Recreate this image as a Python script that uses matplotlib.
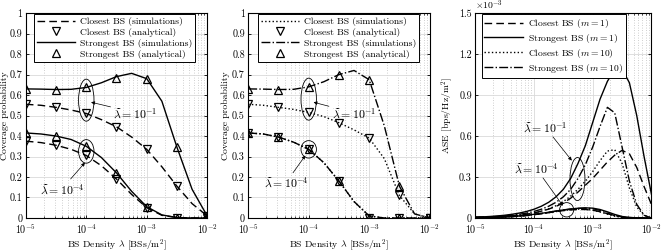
import numpy as np
import matplotlib
matplotlib.use("Agg")
import matplotlib.pyplot as plt
from matplotlib.patches import Ellipse
from matplotlib.ticker import FuncFormatter, LogLocator, NullFormatter

plt.rcParams.update({
    "font.family": ["cmr10", "DejaVu Serif"],
    "mathtext.fontset": "cm",
    "axes.formatter.use_mathtext": True,
    "font.size": 7,
    "axes.linewidth": 0.8,
})

# ---------------- data ----------------
# analytical points (markers)
lam_pts = [1e-5, 3.16e-5, 1e-4, 3.16e-4, 1e-3, 3.16e-3, 1e-2]
# simulation grid (quarter decades) for panels 1 and 2
lam_sim = [10 ** (-5 + 0.25 * k) for k in range(13)]
# simulation grid (eighth decades) for panel 3
lam_ase = [10 ** (-5 + 0.125 * k) for k in range(25)]

# Panel 1 (m = 1)
p1_close_an_hi = [0.555, 0.54, 0.51, 0.445, 0.335, 0.155, 0.01]
p1_strong_an_hi = [0.63, 0.627, 0.637, 0.685, 0.68, 0.345, 0.01]
p1_close_an_lo = [0.375, 0.355, 0.305, 0.19, 0.05, 0.0, 0.0]
p1_strong_an_lo = [0.415, 0.40, 0.35, 0.22, 0.055, 0.0, 0.0]
p1_close_sim_hi = [0.555, 0.55, 0.54, 0.527, 0.51, 0.48, 0.445, 0.395, 0.335, 0.25, 0.155, 0.07, 0.01]
p1_strong_sim_hi = [0.63, 0.629, 0.627, 0.628, 0.637, 0.66, 0.69, 0.706, 0.68, 0.57, 0.345, 0.14, 0.01]
p1_close_sim_lo = [0.375, 0.368, 0.355, 0.335, 0.305, 0.255, 0.19, 0.115, 0.05, 0.013, 0.002, 0.0, 0.0]
p1_strong_sim_lo = [0.415, 0.41, 0.40, 0.383, 0.35, 0.295, 0.22, 0.13, 0.055, 0.015, 0.002, 0.0, 0.0]

# Panel 2 (m = 10)
p2_close_an_hi = [0.555, 0.54, 0.515, 0.465, 0.39, 0.11, 0.0]
p2_strong_an_hi = [0.63, 0.627, 0.64, 0.70, 0.675, 0.155, 0.0]
p2_close_an_lo = [0.415, 0.395, 0.335, 0.18, 0.0, 0.0, 0.0]
p2_strong_an_lo = [0.415, 0.395, 0.335, 0.18, 0.0, 0.0, 0.0]
p2_close_sim_hi = [0.555, 0.55, 0.54, 0.53, 0.515, 0.495, 0.465, 0.43, 0.39, 0.29, 0.11, 0.02, 0.0]
p2_strong_sim_hi = [0.63, 0.629, 0.627, 0.628, 0.64, 0.665, 0.70, 0.72, 0.675, 0.45, 0.155, 0.02, 0.0]
p2_close_sim_lo = [0.415, 0.41, 0.395, 0.37, 0.335, 0.27, 0.18, 0.08, 0.01, 0.0, 0.0, 0.0, 0.0]
p2_strong_sim_lo = [0.415, 0.41, 0.395, 0.37, 0.335, 0.27, 0.18, 0.08, 0.01, 0.0, 0.0, 0.0, 0.0]

# Panel 3: ASE (x 1e-3 bps/Hz/m^2)
ase_close_m1_hi = [0.004, 0.005, 0.007, 0.009, 0.012, 0.016, 0.021, 0.028, 0.037, 0.049, 0.065, 0.085,
                   0.11, 0.145, 0.19, 0.24, 0.29, 0.35, 0.41, 0.46, 0.495, 0.47, 0.37, 0.23, 0.10]
ase_strong_m1_hi = [0.006, 0.008, 0.011, 0.015, 0.02, 0.027, 0.036, 0.048, 0.064, 0.086, 0.115, 0.155,
                    0.21, 0.29, 0.40, 0.53, 0.70, 0.87, 1.00, 1.09, 1.09, 0.99, 0.75, 0.45, 0.175]
ase_close_m10_hi = [0.004, 0.005, 0.007, 0.009, 0.012, 0.016, 0.021, 0.028, 0.037, 0.05, 0.067, 0.09,
                    0.12, 0.16, 0.21, 0.27, 0.34, 0.42, 0.49, 0.50, 0.40, 0.22, 0.08, 0.02, 0.0]
ase_strong_m10_hi = [0.005, 0.006, 0.008, 0.011, 0.015, 0.02, 0.027, 0.036, 0.048, 0.064, 0.086, 0.115,
                     0.155, 0.21, 0.29, 0.39, 0.52, 0.67, 0.81, 0.77, 0.52, 0.27, 0.10, 0.02, 0.0]
ase_close_m1_lo = [0.0025, 0.003, 0.004, 0.005, 0.007, 0.0095, 0.013, 0.018, 0.024, 0.031, 0.039, 0.047,
                   0.054, 0.059, 0.062, 0.062, 0.057, 0.046, 0.032, 0.018, 0.008, 0.003, 0.001, 0.0, 0.0]
ase_strong_m1_lo = [0.003, 0.0035, 0.0045, 0.006, 0.008, 0.011, 0.015, 0.02, 0.027, 0.034, 0.042, 0.051,
                    0.059, 0.066, 0.071, 0.074, 0.072, 0.062, 0.045, 0.026, 0.011, 0.004, 0.001, 0.0, 0.0]
ase_close_m10_lo = [0.0025, 0.003, 0.004, 0.005, 0.007, 0.0095, 0.013, 0.018, 0.024, 0.031, 0.039, 0.047,
                    0.055, 0.061, 0.065, 0.064, 0.057, 0.044, 0.028, 0.013, 0.004, 0.001, 0.0, 0.0, 0.0]
ase_strong_m10_lo = [0.003, 0.0035, 0.0045, 0.006, 0.008, 0.011, 0.015, 0.02, 0.026, 0.033, 0.041, 0.05,
                     0.058, 0.065, 0.07, 0.072, 0.068, 0.055, 0.035, 0.017, 0.006, 0.001, 0.0, 0.0, 0.0]

xlabel = r"BS Density $\lambda$ [BSs/m$^2$]"
lab_hi = r"$\widetilde{\lambda}=10^{-1}$"
lab_lo = r"$\widetilde{\lambda}=10^{-4}$"

# ---------------- figure ----------------
fig = plt.figure(figsize=(6.62, 2.52), dpi=100)
ax1 = fig.add_axes([0.039, 0.135, 0.274, 0.813])
ax2 = fig.add_axes([0.375, 0.135, 0.274, 0.813])
ax3 = fig.add_axes([0.718, 0.135, 0.266, 0.813])

DASH = (0, (5.5, 3))
mk = dict(ls="none", mfc="none", mec="k", ms=5.8, mew=0.9)
lw = 1.0
LEGFS = 6.9


def style(ax, ymax, yticks, ylab, ylab_x):
    ax.set_xscale("log")
    ax.set_xlim(1e-5, 1e-2)
    ax.set_ylim(0, ymax)
    ax.set_yticks(yticks)
    ax.yaxis.set_major_formatter(FuncFormatter(lambda v, p: "%g" % round(v, 3)))
    ax.xaxis.set_minor_locator(LogLocator(base=10, subs=np.arange(2, 10), numticks=20))
    ax.xaxis.set_minor_formatter(NullFormatter())
    ax.tick_params(which="both", direction="in", top=True, right=True, labelsize=7.2)
    ax.tick_params(axis="x", pad=3.6)
    ax.tick_params(axis="y", pad=2.5)
    ax.tick_params(which="major", length=2.5, width=0.6)
    ax.tick_params(which="minor", length=1.5, width=0.5)
    ax.grid(True, which="major", color="#d9d9d9", lw=0.6, ls="-")
    ax.grid(True, which="minor", axis="x", color="#bfbfbf", lw=0.6, ls=(0, (1, 2)))
    ax.set_axisbelow(True)
    ax.set_xlabel(xlabel, fontsize=7.0)
    ax.xaxis.set_label_coords(0.5, -0.093)
    ax.set_ylabel(ylab, fontsize=7.0)
    ax.yaxis.set_label_coords(ylab_x, 0.5)


def frac(ax, x, y):
    return (ax.transScale + ax.transLimits).transform((x, y))


def ellipse(ax, x, y, w, h):
    cx, cy = frac(ax, x, y)
    ax.add_patch(Ellipse((cx, cy), w, h, transform=ax.transAxes, fill=False, ec="k", lw=0.6, zorder=5))


def note(ax, text, xy, xytext):
    ax.annotate(text, xy=xy, xytext=xytext, fontsize=8.5,
                arrowprops=dict(arrowstyle="-|>", lw=0.5, color="k", mutation_scale=5,
                                shrinkA=0, shrinkB=0), zorder=6)


def legend(ax, x0):
    leg = ax.legend(loc="upper left", bbox_to_anchor=(x0, 1.0), fontsize=LEGFS, handlelength=4.0,
                    handletextpad=0.5, borderpad=0.3, labelspacing=0.2, fancybox=False,
                    edgecolor="k", framealpha=1, borderaxespad=0.1)
    leg.get_frame().set_linewidth(0.7)


# Panel 1
style(ax1, 1, np.arange(0, 1.01, 0.1), "Coverage probability", -0.09)
ax1.plot(lam_sim, p1_close_sim_hi, color="k", lw=lw, ls=DASH, label="Closest BS (simulations)")
ax1.plot(lam_pts, p1_close_an_hi, marker="v", label="Closest BS (analytical)", **mk)
ax1.plot(lam_sim, p1_strong_sim_hi, color="k", lw=lw, ls="-", label="Strongest BS (simulations)")
ax1.plot(lam_pts, p1_strong_an_hi, marker="^", label="Strongest BS (analytical)", **mk)
ax1.plot(lam_sim, p1_close_sim_lo, color="k", lw=lw, ls=DASH)
ax1.plot(lam_pts, p1_close_an_lo, marker="v", **mk)
ax1.plot(lam_sim, p1_strong_sim_lo, color="k", lw=lw, ls="-")
ax1.plot(lam_pts, p1_strong_an_lo, marker="^", **mk)
ellipse(ax1, 1e-4, 0.575, 0.085, 0.205)
ellipse(ax1, 1e-4, 0.325, 0.085, 0.115)
note(ax1, lab_hi, (1.2e-4, 0.565), (2.8e-4, 0.49))
note(ax1, lab_lo, (9.5e-5, 0.27), (1.7e-5, 0.12))
legend(ax1, 0.04)

# Panel 2
style(ax2, 1, np.arange(0, 1.01, 0.1), "Coverage probability", -0.1)
ax2.plot(lam_sim, p2_close_sim_hi, color="k", lw=lw, ls=":", label="Closest BS (simulations)")
ax2.plot(lam_pts, p2_close_an_hi, marker="v", label="Closest BS (analytical)", **mk)
ax2.plot(lam_sim, p2_strong_sim_hi, color="k", lw=lw, ls="-.", label="Strongest BS (simulations)")
ax2.plot(lam_pts, p2_strong_an_hi, marker="^", label="Strongest BS (analytical)", **mk)
ax2.plot(lam_sim, p2_close_sim_lo, color="k", lw=lw, ls=":")
ax2.plot(lam_pts, p2_close_an_lo, marker="v", **mk)
ax2.plot(lam_sim, p2_strong_sim_lo, color="k", lw=lw, ls="-.")
ax2.plot(lam_pts, p2_strong_an_lo, marker="^", **mk)
ellipse(ax2, 1e-4, 0.58, 0.085, 0.205)
ellipse(ax2, 1e-4, 0.335, 0.085, 0.085)
note(ax2, lab_hi, (1.2e-4, 0.565), (2.4e-4, 0.49))
note(ax2, lab_lo, (8.8e-5, 0.305), (1.8e-5, 0.15))
legend(ax2, 0.05)

# Panel 3
style(ax3, 1.5, np.arange(0, 1.51, 0.3), r"ASE [bps/Hz/m$^2$]", -0.115)
for hi, lo, ls, lab in [
    (ase_close_m1_hi, ase_close_m1_lo, DASH, r"Closest BS ($m=1$)"),
    (ase_strong_m1_hi, ase_strong_m1_lo, "-", r"Strongest BS ($m=1$)"),
    (ase_close_m10_hi, ase_close_m10_lo, ":", r"Closest BS ($m=10$)"),
    (ase_strong_m10_hi, ase_strong_m10_lo, "-.", r"Strongest BS ($m=10$)"),
]:
    ax3.plot(lam_ase, hi, color="k", lw=lw, ls=ls, label=lab)
    ax3.plot(lam_ase, lo, color="k", lw=lw, ls=ls)
ax3.text(0.0, 1.005, r"$\times10^{-3}$", transform=ax3.transAxes, fontsize=7, va="bottom", ha="left")
ellipse(ax3, 5.5e-4, 0.285, 0.085, 0.21)
ellipse(ax3, 3.6e-4, 0.06, 0.08, 0.07)
note(ax3, lab_hi, (4.4e-4, 0.42), (6.5e-5, 0.63))
note(ax3, lab_lo, (3.1e-4, 0.09), (4.5e-5, 0.33))
legend(ax3, 0.03)

fig.savefig("out.png", dpi=100)
